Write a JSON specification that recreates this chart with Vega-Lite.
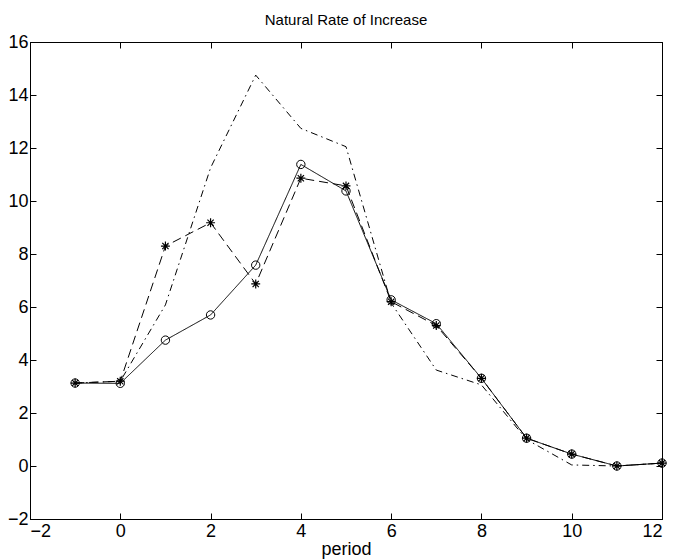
{
  "$schema": "https://vega.github.io/schema/vega-lite/v6.json",
  "autosize": {"type": "none"},
  "padding": {"left": 30, "top": 42, "right": 14, "bottom": 40},
  "width": 632,
  "height": 477,
  "background": "white",
  "config": {
    "font": "Liberation Sans",
    "view": {"stroke": "black", "strokeWidth": 1},
    "axis": {
      "grid": false,
      "labelFont": "Liberation Sans",
      "labelFontSize": 18,
      "labelColor": "black",
      "tickColor": "black",
      "domainColor": "black",
      "tickSize": -6,
      "titleFont": "Liberation Sans",
      "titleFontSize": 18,
      "titleFontWeight": "normal",
      "titleColor": "black"
    }
  },
  "title": {
    "text": "Natural Rate of Increase",
    "font": "Liberation Sans",
    "fontSize": 15,
    "fontWeight": "normal",
    "color": "black",
    "offset": 5
  },
  "data": {
    "values": [
      {"period": -1, "value": 3.13, "series": "A"},
      {"period": 0, "value": 3.12, "series": "A"},
      {"period": 1, "value": 4.75, "series": "A"},
      {"period": 2, "value": 5.70, "series": "A"},
      {"period": 3, "value": 7.58, "series": "A"},
      {"period": 4, "value": 11.38, "series": "A"},
      {"period": 5, "value": 10.38, "series": "A"},
      {"period": 6, "value": 6.27, "series": "A"},
      {"period": 7, "value": 5.37, "series": "A"},
      {"period": 8, "value": 3.31, "series": "A"},
      {"period": 9, "value": 1.05, "series": "A"},
      {"period": 10, "value": 0.45, "series": "A"},
      {"period": 11, "value": 0.0, "series": "A"},
      {"period": 12, "value": 0.11, "series": "A"},
      {"period": -1, "value": 3.13, "series": "B"},
      {"period": 0, "value": 3.2, "series": "B"},
      {"period": 1, "value": 8.3, "series": "B"},
      {"period": 2, "value": 9.18, "series": "B"},
      {"period": 3, "value": 6.87, "series": "B"},
      {"period": 4, "value": 10.86, "series": "B"},
      {"period": 5, "value": 10.57, "series": "B"},
      {"period": 6, "value": 6.2, "series": "B"},
      {"period": 7, "value": 5.3, "series": "B"},
      {"period": 8, "value": 3.31, "series": "B"},
      {"period": 9, "value": 1.05, "series": "B"},
      {"period": 10, "value": 0.45, "series": "B"},
      {"period": 11, "value": 0.0, "series": "B"},
      {"period": 12, "value": 0.11, "series": "B"},
      {"period": -1, "value": 3.13, "series": "C"},
      {"period": 0, "value": 3.2, "series": "C"},
      {"period": 1, "value": 6.08, "series": "C"},
      {"period": 2, "value": 11.25, "series": "C"},
      {"period": 3, "value": 14.75, "series": "C"},
      {"period": 4, "value": 12.74, "series": "C"},
      {"period": 5, "value": 12.05, "series": "C"},
      {"period": 6, "value": 6.15, "series": "C"},
      {"period": 7, "value": 3.62, "series": "C"},
      {"period": 8, "value": 3.06, "series": "C"},
      {"period": 9, "value": 1.0, "series": "C"},
      {"period": 10, "value": 0.04, "series": "C"},
      {"period": 11, "value": 0.0, "series": "C"},
      {"period": 12, "value": 0.11, "series": "C"}
    ]
  },
  "layer": [
    {
      "layer": [
        {
          "mark": {"type": "line", "color": "black", "strokeWidth": 1},
          "encoding": {
            "x": {"field": "period", "type": "quantitative", "scale": {"domain": [-2, 12], "nice": false, "zero": false},
                  "axis": {"orient": "bottom", "values": [-2, 0, 2, 4, 6, 8, 10, 12], "title": "period", "labelPadding": 9, "titlePadding": 0}},
            "y": {"field": "value", "type": "quantitative", "scale": {"domain": [-2, 16], "nice": false, "zero": false},
                  "axis": {"orient": "left", "values": [-2, 0, 2, 4, 6, 8, 10, 12, 14, 16], "title": null, "labelPadding": 8}},
            "detail": {"field": "series"},
            "strokeDash": {"field": "series", "type": "nominal", "legend": null,
                           "scale": {"domain": ["A", "B", "C"], "range": [[1, 0], [9, 5], [7, 4, 1.5, 4]]}}
          }
        },
        {
          "transform": [{"filter": "datum.series === 'A'"}],
          "mark": {"type": "point", "shape": "circle", "filled": false, "color": "black", "size": 70, "strokeWidth": 1, "opacity": 1},
          "encoding": {
            "x": {"field": "period", "type": "quantitative"},
            "y": {"field": "value", "type": "quantitative"}
          }
        },
        {
          "transform": [{"filter": "datum.series === 'B'"}],
          "mark": {"type": "point", "shape": "M-1,0L1,0M0,-1L0,1M-0.7,-0.7L0.7,0.7M-0.7,0.7L0.7,-0.7", "filled": false, "color": "black", "size": 80, "strokeWidth": 1.2, "opacity": 1},
          "encoding": {
            "x": {"field": "period", "type": "quantitative"},
            "y": {"field": "value", "type": "quantitative"}
          }
        }
      ]
    },
    {
      "mark": {"type": "point", "opacity": 0},
      "encoding": {
        "x": {"field": "period", "type": "quantitative",
              "axis": {"orient": "top", "values": [-2, 0, 2, 4, 6, 8, 10, 12], "labels": false, "title": null}},
        "y": {"field": "value", "type": "quantitative",
              "axis": {"orient": "right", "values": [-2, 0, 2, 4, 6, 8, 10, 12, 14, 16], "labels": false, "title": null}}
      }
    }
  ],
  "resolve": {"axis": {"x": "independent", "y": "independent"}}
}
